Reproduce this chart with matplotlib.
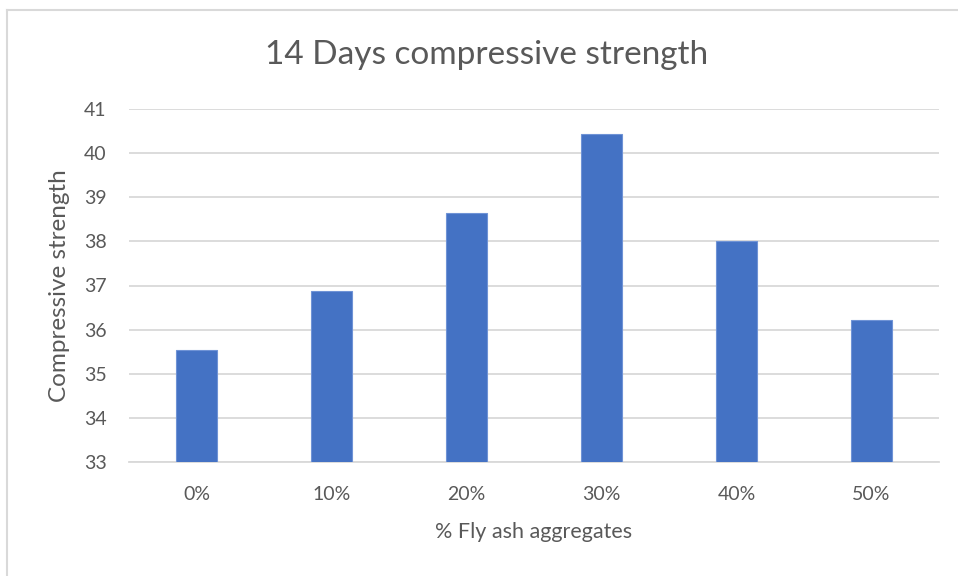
import matplotlib as mpl
import matplotlib.pyplot as plt
from matplotlib.lines import Line2D

mpl.rcParams['font.family'] = ['Lato', 'DejaVu Sans']

categories = ['0%', '10%', '20%', '30%', '40%', '50%']
strength = [35.54, 36.88, 38.65, 40.44, 38.0, 36.21]

text_col = '#595959'
grid_col = '#d9d9d9'

fig = plt.figure(figsize=(9.58, 5.76), dpi=100)
ax = fig.add_axes([129 / 958, 1 - 462 / 576, 810 / 958, 353 / 576])

x = range(len(categories))
ax.bar(x, strength, width=0.31, color='#4472c4', edgecolor='#6f93d6', linewidth=0.8, zorder=3)

ax.set_ylim(33, 41)
ax.set_xlim(-0.5, len(categories) - 0.5)
ax.set_yticks(range(33, 42))
ax.set_xticks(list(x))
ax.set_xticklabels(categories)
ax.yaxis.grid(True, color=grid_col, linewidth=1.3, zorder=0)
for s in ['top', 'right', 'left']:
    ax.spines[s].set_visible(False)
ax.spines['bottom'].set_color(grid_col)
ax.spines['bottom'].set_linewidth(1.3)
ax.tick_params(axis='both', length=0, labelsize=14, colors=text_col)
ax.tick_params(axis='y', pad=16)
ax.tick_params(axis='x', pad=17)

ax.set_xlabel('% Fly ash aggregates', fontsize=15.5, color=text_col, labelpad=14)
ax.set_ylabel('Compressive strength', fontsize=17.5, color=text_col, labelpad=10)
fig.text(487 / 958, 1 - 55 / 576, '14 Days compressive strength', fontsize=24,
         color=text_col, ha='center', va='center')

# chart frame (only top and left edges visible in the crop)
fig.add_artist(Line2D([7 / 958, 1], [1 - 10 / 576] * 2, color=grid_col, linewidth=1.5))
fig.add_artist(Line2D([7 / 958] * 2, [0, 1 - 10 / 576], color=grid_col, linewidth=1.5))

fig.savefig('out.png', dpi=100)
